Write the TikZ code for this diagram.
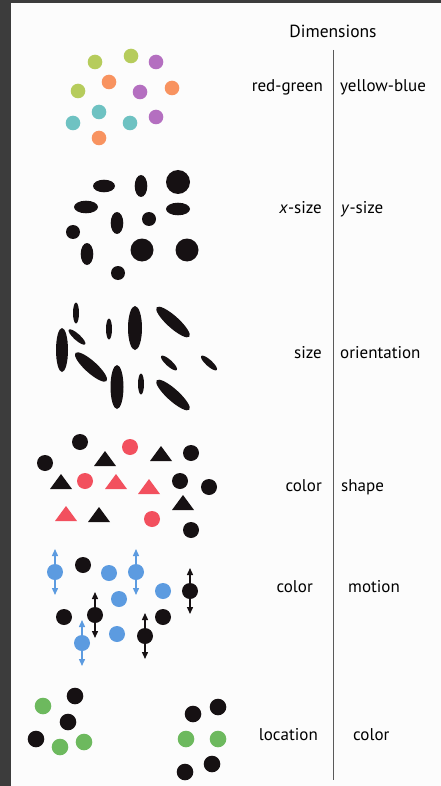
\documentclass[tikz,border=0pt]{standalone}
\usepackage{fontspec}
\setmainfont{PT Sans}
\usetikzlibrary{arrows.meta}
\definecolor{frame}{HTML}{3C3C3C}
\definecolor{paper}{HTML}{FCFCFC}
\definecolor{cgreen}{HTML}{B6CC5C}
\definecolor{cpurple}{HTML}{B46FC0}
\definecolor{corange}{HTML}{F89360}
\definecolor{cteal}{HTML}{6EC2C2}
\definecolor{ink}{HTML}{161113}
\definecolor{cred}{HTML}{F2505E}
\definecolor{cblue}{HTML}{5C9BE0}
\definecolor{lgreen}{HTML}{6DB95E}
\definecolor{rule}{HTML}{5A5A5A}
\tikzset{
  lab/.style={inner sep=0pt, font=\fontsize{17}{20}\selectfont, text=black},
  labl/.style={lab, anchor=base east},
  labr/.style={lab, anchor=base west},
  mv/.style={-{Triangle[length=7pt,width=6pt]}, line width=1.4pt},
}
\begin{document}
\begin{tikzpicture}[x=1pt,y=-1pt]
\useasboundingbox (0,0) rectangle (441,786);
\fill[frame] (0,0) rectangle (441,786);
\fill[paper] (11,3) rectangle (441,786);

% header and divider
\node[lab, anchor=base, font=\fontsize{17.5}{20}\selectfont] (dim) at (333,38) {Dimensions};
\coordinate (top) at (333,50);
\coordinate (bot) at (333,780);
\draw[rule, line width=1pt] (top) -- (bot);

% Row 1: colours
\foreach \x/\y/\c in {95/62/cgreen, 131/56/cgreen, 156/62/cpurple, 109/82/corange,
  172/88/corange, 140/92/cpurple, 78/91/cgreen, 99/112/cteal, 73/123/cteal,
  130/123/cteal, 156/117/cpurple, 99/138/corange}
  \fill[\c] (\x,\y) circle[radius=7.3];
\node[labl] (rg) at (323,92) {red-green};
\node[labr] (yb) at (340,92) {yellow-blue};

% Row 2: x-size / y-size
\foreach \x/\y/\a/\b in {104/186/11/6.3, 141/186/6.3/11, 178/182/12/12, 86/207/12/6.3,
  178/209/12/6.3, 117/223/6.3/11, 149/219/7/7, 73/232/7/7, 87/254/6.3/11,
  142/250/11.5/11.5, 187/250/11.5/11.5, 118/273/7/7}
  \fill[ink] (\x,\y) ellipse[x radius=\a, y radius=\b];
\node[labl] (xs) at (322,214) {\textit{x}-size};
\node[labr] (ys) at (341,214) {\textit{y}-size};

% Row 3: size / orientation
\foreach \x/\y/\a/\b/\r in {76/313/3/10.5/0, 62/350/6/22/0, 77/337/11/3.2/-42,
  109/329/3/10.5/0, 135/328/7/22/0, 173/322/22/6/-42, 91/367/21/6/-42,
  117/387/6.5/22/0, 141/384/3/10.5/0, 169/363/10.5/3.2/-42, 209/363/10.5/3.2/-42,
  173/395/22/6/-42}
  \fill[ink, rotate around={\r:(\x,\y)}] (\x,\y) ellipse[x radius=\a, y radius=\b];
\node[labl] (sz) at (322,358) {size};
\node[labr] (or) at (340,358) {orientation};

% Row 4: color / shape
\foreach \x/\y/\c in {80/442/ink, 130/447/cred, 45/463/ink, 191/453/ink, 85/481/cred,
  180/481/ink, 209/487/ink, 152/519/cred, 191/530/ink}
  \fill[\c] (\x,\y) circle[radius=8];
\foreach \x/\y/\c in {105/459/ink, 161/454/ink, 61/482/ink, 116/482/cred, 149/487/cred,
  183/503/ink, 66/514/cred, 99/515/ink}
  \fill[\c] (\x-11,\y+7) -- (\x+11,\y+7) -- (\x,\y-8) -- cycle;
\node[labl] (c4) at (322,491) {color};
\node[labr] (s4) at (341,491) {shape};

% Row 5: color / motion
\foreach \x/\y/\c in {83/565/ink, 109/573/cblue, 119/599/cblue, 163/591/cblue,
  64/617/ink, 163/617/ink, 117/634/cblue}
  \fill[\c] (\x,\y) circle[radius=8];
\foreach \x/\y/\c in {55/572/cblue, 136/572/cblue, 190/591/ink, 95/615/ink,
  145/636/ink, 82/643/cblue}
{
  \fill[\c] (\x,\y) circle[radius=8];
  \draw[mv, \c] (\x,\y) -- (\x,\y-23);
  \draw[mv, \c] (\x,\y) -- (\x,\y+23);
}
\node[labl] (c5) at (313,592) {color};
\node[labr] (m5) at (348,592) {motion};

% Row 6: location / color
\foreach \x/\y/\c in {43/706/lgreen, 75/696/ink, 68/722/ink, 36/739/ink, 60/747/lgreen,
  84/742/lgreen, 193/714/ink, 218/707/ink, 186/739/lgreen, 218/739/lgreen,
  212/764/ink, 185/772/ink}
  \fill[\c] (\x,\y) circle[radius=8.3];
\node[labl] (lo) at (318,740) {location};
\node[labr] (c6) at (353,740) {color};
\end{tikzpicture}
\end{document}
